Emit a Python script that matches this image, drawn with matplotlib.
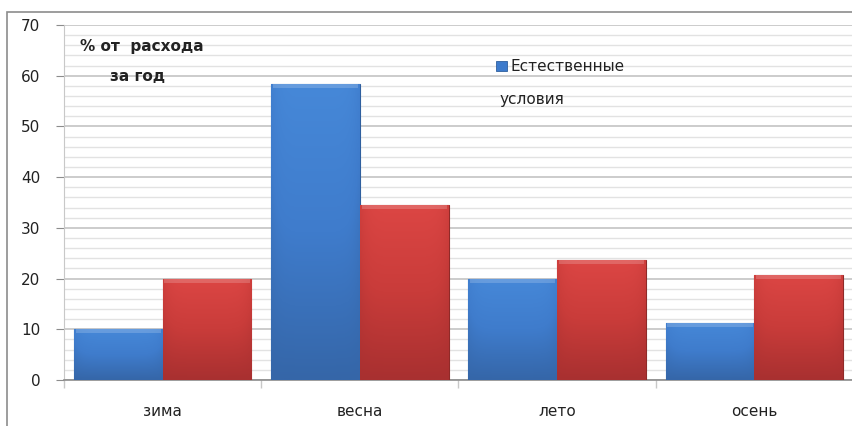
import matplotlib
matplotlib.use("Agg")
import matplotlib.pyplot as plt
import numpy as np
from matplotlib.patches import Rectangle
from matplotlib.colors import LinearSegmentedColormap

categories = ["зима", "весна", "лето", "осень"]
natural = [10, 58.3, 20, 11.3]
other = [20, 34.6, 23.6, 20.8]
legend_label = "Естественные условия"
note_lines = ["% от  расхода", "за год"]
yticks = [0, 10, 20, 30, 40, 50, 60, 70]

fig = plt.figure(figsize=(8.53, 4.26), dpi=100)
fig.patch.set_facecolor("white")
ax = fig.add_axes([64/853, 1-380/426, (853-64)/853, (380-25)/426])

# outer chart frame
fig.patches.append(Rectangle((7/853, -0.01), 1.0, 1-12/426+0.01, transform=fig.transFigure,
                             fill=False, edgecolor="#8c8c8c", linewidth=1.2, zorder=0))

x = np.arange(len(categories))
w = 0.45
b1 = ax.bar(x - w/2, natural, width=w, color="#3d7bcc", edgecolor="#2f5f9e", linewidth=0.8, zorder=3)
b2 = ax.bar(x + w/2, other, width=w, color="#d23f3c", edgecolor="#8f2a28", linewidth=0.8, zorder=3)

blue_cm = LinearSegmentedColormap.from_list("b", ["#3566a8", "#3f7ccc", "#4688d8"])
red_cm = LinearSegmentedColormap.from_list("r", ["#a83030", "#c93c3a", "#dc4644"])
grad = np.linspace(0, 1, 256).reshape(-1, 1)
hgrad = np.linspace(0, 1, 64).reshape(1, -1)
for bars, cm in ((b1, blue_cm), (b2, red_cm)):
    for p in bars:
        x0, y0 = p.get_x(), p.get_y()
        pw, ph = p.get_width(), p.get_height()
        shade = grad * (1 - 0.35 * (np.abs(hgrad - 0.5) * 2) ** 6)
        im = ax.imshow(shade, cmap=cm, vmin=0, vmax=1, aspect="auto", origin="lower",
                       extent=(x0, x0 + pw, y0, y0 + ph), zorder=3.5, interpolation="bilinear")
        im.set_clip_path(p)
        # top bevel highlight
        ax.add_patch(Rectangle((x0 + pw*0.02, y0 + ph - 0.8), pw*0.96, 0.8,
                               facecolor="white", alpha=0.18, edgecolor="none", zorder=3.6))

ax.set_xlim(-0.5, 3.5)
ax.set_ylim(0, 70)
ax.set_yticks(yticks)
ax.set_yticks(np.arange(0, 71, 2), minor=True)
ax.set_xticks(x)
ax.set_xticklabels(categories)
ax.set_xticks(np.arange(-0.5, 3.6, 1), minor=True)

ax.grid(axis="y", which="minor", color="#e2e2e2", linewidth=1.0, zorder=0)
ax.grid(axis="y", which="major", color="#c4c4c4", linewidth=1.2, zorder=0)
ax.set_axisbelow(True)

for s in ("top", "right"):
    ax.spines[s].set_visible(False)
ax.spines["left"].set_color("#c8c8c8")
ax.spines["bottom"].set_color("#8c8c8c")
ax.spines["bottom"].set_linewidth(1.2)

ax.tick_params(axis="y", which="major", length=6, color="#8c8c8c", pad=11, labelsize=11, labelcolor="#222222")
ax.tick_params(axis="y", which="minor", length=0)
ax.tick_params(axis="x", which="major", length=0, pad=17, labelsize=11, labelcolor="#222222")
ax.tick_params(axis="x", which="minor", length=6, color="#c8c8c8", width=1)

ax.text(0.02, 0.94, note_lines[0], transform=ax.transAxes, fontsize=11, fontweight="bold",
        color="#222222", va="center", ha="left")
ax.text(0.058, 0.855, note_lines[1], transform=ax.transAxes, fontsize=11, fontweight="bold",
        color="#222222", va="center", ha="left")

first, rest = legend_label.split(" ", 1)
ax.add_patch(Rectangle((0.548, 0.87), 0.013, 0.028, transform=ax.transAxes,
                       facecolor="#3d7bcc", edgecolor="#2f5f9e", linewidth=0.6, zorder=5))
ax.text(0.566, 0.884, first, transform=ax.transAxes, fontsize=11, color="#222222",
        va="center", ha="left")
ax.text(0.552, 0.79, rest, transform=ax.transAxes, fontsize=11, color="#222222",
        va="center", ha="left")

fig.savefig("out.png", dpi=100, facecolor="white")
